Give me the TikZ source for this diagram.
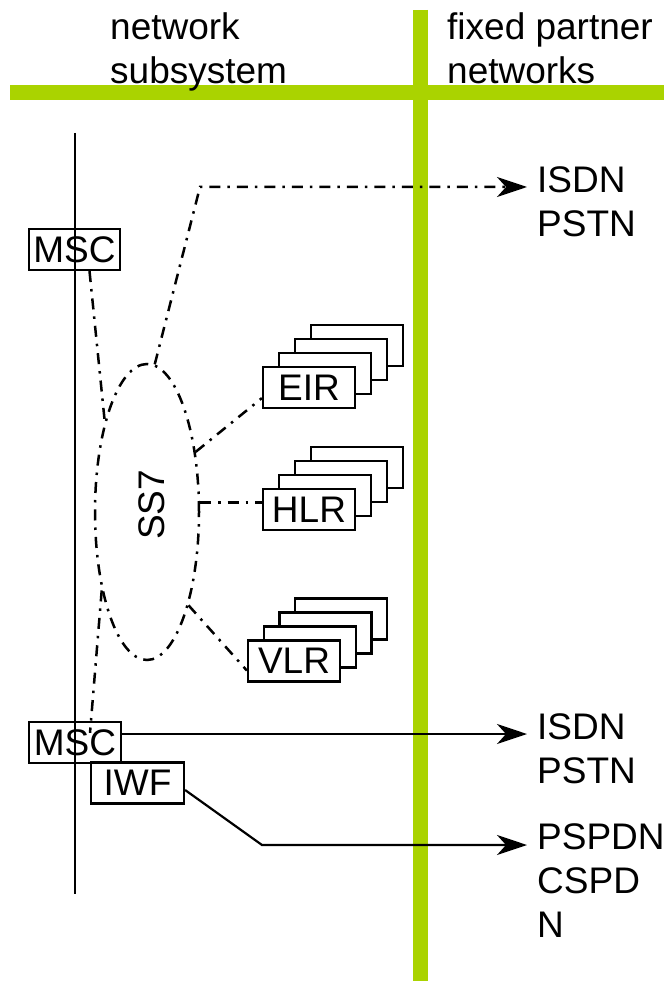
\documentclass[tikz,border=0pt]{standalone}
\usepackage{fontspec}
\setmainfont{Liberation Sans}
\usetikzlibrary{arrows.meta,shapes.geometric,calc}
\definecolor{bargreen}{RGB}{170,211,0}
\begin{document}
\begin{tikzpicture}[x=1pt,y=-1pt,
 lbl/.style={font=\fontsize{37}{44}\selectfont, inner sep=0pt},
 box/.style={draw, line width=2.2pt, minimum width=92pt, minimum height=41pt, inner sep=0pt, font=\fontsize{37}{44}\selectfont},
 backbox/.style={box, fill=white},
 ddash/.style={line width=2.5pt, dash pattern=on 11pt off 7pt on 2.5pt off 7pt},
 tip/.style={-{Stealth[length=30pt,width=20pt,inset=9pt]}},
 bar/.style={bargreen, line width=15pt}]
\useasboundingbox (0,0) rectangle (664,981);
% green bars
\draw[bar] (10,92.5) -- (664,92.5);
\draw[bar] (420.5,10) -- (420.5,981);
% headings
\node[lbl, align=left, anchor=north west] (ns) at (110,12) {network\\subsystem};
\node[lbl, align=left, anchor=north west] (fp) at (447,12) {fixed partner\\networks};
% vertical line
\coordinate (vtop) at (75,133);
\coordinate (vbot) at (75,894);
\draw[line width=2.2pt] (vtop) -- (vbot);
% MSC / IWF
\node[box, minimum width=91pt] (msc1) at (74.5,249.5) {MSC};
\node[box] (msc2) at (75,742.5) {MSC};
\node[box, minimum width=93pt] (iwf) at (137.5,783) {IWF};
% SS7 ellipse
\node[draw, ddash, ellipse, minimum width=104pt, minimum height=296pt, inner sep=0pt] (ss7) at (147,512) {};
\node[lbl, rotate=90] (ss7t) at (152,505) {SS7};
% stacks
\foreach \i in {3,2,1} {
  \node[backbox] (eirb\i) at ({309+16*\i},{387.5-14*\i}) {};
}
\node[backbox] (eir) at (309,387.5) {EIR};
\foreach \i in {3,2,1} {
  \node[backbox] (hlrb\i) at ({309+16*\i},{509.5-14*\i}) {};
}
\node[backbox] (hlr) at (309,509.5) {HLR};
\foreach \i in {3,2,1} {
  \node[backbox] (vlrb\i) at ({294+15.7*\i},{661-14*\i}) {};
}
\node[backbox] (vlr) at (294,661) {VLR};
% signalling connectors
\draw[ddash] ($(msc1.south)+(15,0)$) -- (ss7.115);
\draw[ddash] (ss7.240) -- ($(msc2.north)+(15,12)$);
\draw[ddash] (ss7.51) -- ($(eir.south west)+(0,-11)$);
\draw[ddash] (ss7.10) -- (ss7.10 -| hlr.west);
\draw[ddash] (ss7.294) -- ($(vlr.south west)+(0,-12)$);
\coordinate (k1) at (200,187);
\coordinate (a1) at (527,187);
\draw[ddash, tip] (ss7.87) -- (k1) -- (a1);
% data connectors
\coordinate (a2) at (527,734);
\draw[line width=2.2pt, tip] ($(msc2.east)+(0,-8.5)$) -- (a2);
\coordinate (k3) at (262,845);
\coordinate (a3) at (527,845);
\draw[line width=2.2pt, tip] ($(iwf.east)+(0,7)$) -- (k3) -- (a3);
% partner network labels
\node[lbl, align=left, anchor=north west] (n1) at (537,166) {ISDN\\PSTN};
\node[lbl, align=left, anchor=north west] (n2) at (537,713) {ISDN\\PSTN};
\node[lbl, align=left, anchor=north west] (n3) at (537,823) {PSPDN\\CSPD\\N};
\end{tikzpicture}
\end{document}
